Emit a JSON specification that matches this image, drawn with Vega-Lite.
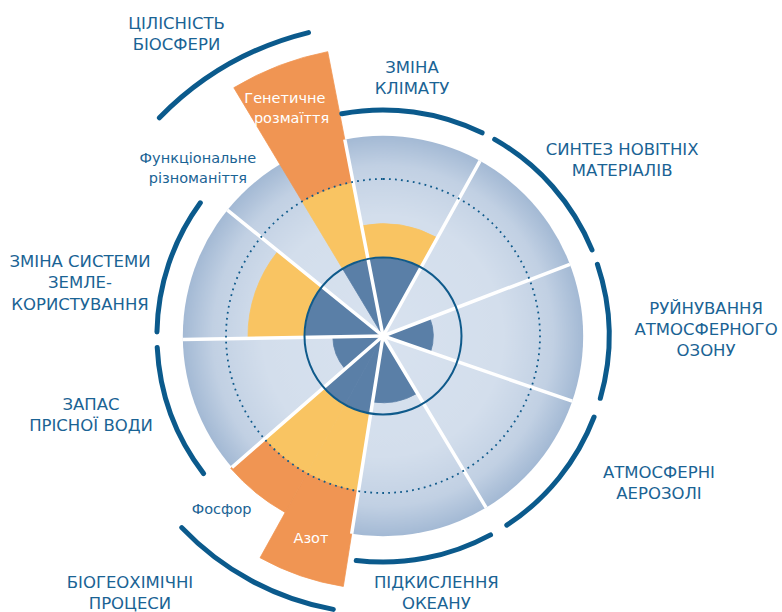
{
  "$schema": "https://vega.github.io/schema/vega-lite/v6.json",
  "width": 764,
  "height": 550,
  "autosize": {"type": "none"},
  "padding": {"left": 1, "top": 61, "right": 17, "bottom": 1},
  "background": "white",
  "config": {"view": {"stroke": null}, "text": {"font": "DejaVu Sans"}},
  "layer": [
    {
      "data": {"values": [{"start": 0, "end": 360, "outer": 2.55}]},
      "mark": {"type": "arc", "fill": {"gradient": "radial", "x1": 0.5, "y1": 0.5, "r1": 0, "x2": 0.5, "y2": 0.5, "r2": 0.5,
        "stops": [{"offset": 0, "color": "#d8e2ef"}, {"offset": 0.6, "color": "#d3deec"}, {"offset": 0.85, "color": "#c1d0e3"}, {"offset": 1, "color": "#a3b9d4"}]}},
      "encoding": {
        "theta": {"field": "start", "type": "quantitative", "stack": null, "scale": {"type": "linear", "domain": [0, 360], "range": [0, 6.283185307179586], "nice": false}},
        "theta2": {"field": "end"},
        "radius": {"field": "outer", "type": "quantitative", "stack": null, "scale": {"type": "linear", "domain": [0, 1], "range": [0, 78.5], "nice": false}}
      }
    },
    {
      "data": {"values": [
        {"boundary": "Зміна клімату", "start": -11, "end": 29, "inner": 0, "outer": 1, "zone": "safe"},
        {"boundary": "Зміна клімату", "start": -11, "end": 29, "inner": 1, "outer": 1.43, "zone": "increasing"},
        {"boundary": "Озон", "start": 69, "end": 109, "inner": 0, "outer": 0.64, "zone": "safe"},
        {"boundary": "Океан", "start": 149, "end": 189, "inner": 0, "outer": 0.85, "zone": "safe"},
        {"boundary": "Азот", "start": 189, "end": 209, "inner": 0, "outer": 1, "zone": "safe"},
        {"boundary": "Азот", "start": 189, "end": 209, "inner": 1, "outer": 2, "zone": "increasing"},
        {"boundary": "Азот", "start": 189, "end": 209, "inner": 2, "outer": 3.23, "zone": "high"},
        {"boundary": "Фосфор", "start": 209, "end": 229, "inner": 0, "outer": 1, "zone": "safe"},
        {"boundary": "Фосфор", "start": 209, "end": 229, "inner": 1, "outer": 2, "zone": "increasing"},
        {"boundary": "Фосфор", "start": 209, "end": 229, "inner": 2, "outer": 2.57, "zone": "high"},
        {"boundary": "Прісна вода", "start": 229, "end": 269, "inner": 0, "outer": 0.64, "zone": "safe"},
        {"boundary": "Землекористування", "start": 269, "end": 309, "inner": 0, "outer": 1, "zone": "safe"},
        {"boundary": "Землекористування", "start": 269, "end": 309, "inner": 1, "outer": 1.72, "zone": "increasing"},
        {"boundary": "Генетичне розмаїття", "start": 329, "end": 349, "inner": 0, "outer": 1, "zone": "safe"},
        {"boundary": "Генетичне розмаїття", "start": 329, "end": 349, "inner": 1, "outer": 2, "zone": "increasing"},
        {"boundary": "Генетичне розмаїття", "start": 329, "end": 349, "inner": 2, "outer": 3.69, "zone": "high"}
      ]},
      "mark": {"type": "arc", "strokeWidth": 0.8},
      "encoding": {
        "theta": {"field": "start", "type": "quantitative", "stack": null},
        "theta2": {"field": "end"},
        "radius": {"field": "outer", "type": "quantitative", "stack": null},
        "radius2": {"field": "inner"},
        "color": {"field": "zone", "type": "nominal", "legend": null, "scale": {"domain": ["safe", "increasing", "high"], "range": ["#5a7fa7", "#f9c462", "#f09553"]}},
        "stroke": {"field": "zone", "type": "nominal", "legend": null, "scale": {"domain": ["safe", "increasing", "high"], "range": ["#5a7fa7", "#f9c462", "#f09553"]}}
      }
    },
    {
      "data": {"values": [
        {"angle": 349, "outer": 2.55}, {"angle": 29, "outer": 2.55}, {"angle": 69, "outer": 2.55},
        {"angle": 109, "outer": 2.55}, {"angle": 149, "outer": 2.55}, {"angle": 189, "outer": 2.55},
        {"angle": 229, "outer": 2.55}, {"angle": 269, "outer": 2.55}, {"angle": 309, "outer": 2.55}
      ]},
      "mark": {"type": "arc", "filled": false, "fill": null, "stroke": "white", "strokeWidth": 3.5},
      "encoding": {
        "theta": {"field": "angle", "type": "quantitative", "stack": null},
        "theta2": {"field": "angle"},
        "radius": {"field": "outer", "type": "quantitative", "stack": null}
      }
    },
    {
      "data": {"values": [{"start": 0, "end": 360, "r": 2.0}]},
      "mark": {"type": "arc", "filled": false, "fill": null, "stroke": "#0f5a8b", "strokeWidth": 1.8, "strokeDash": [1.8, 4.2]},
      "encoding": {
        "theta": {"field": "start", "type": "quantitative", "stack": null},
        "theta2": {"field": "end"},
        "radius": {"field": "r", "type": "quantitative", "stack": null}
      }
    },
    {
      "data": {"values": [{"start": 0, "end": 360, "r": 1.0}]},
      "mark": {"type": "arc", "filled": false, "fill": null, "stroke": "#0f5a8b", "strokeWidth": 2},
      "encoding": {
        "theta": {"field": "start", "type": "quantitative", "stack": null},
        "theta2": {"field": "end"},
        "radius": {"field": "r", "type": "quantitative", "stack": null}
      }
    },
    {
      "data": {"values": [
        {"group": "Цілісність біосфери", "start": 314.3, "end": 346.2, "r": 3.98},
        {"group": "Зміна клімату", "start": -10.5, "end": 26, "r": 2.88},
        {"group": "Синтез новітніх матеріалів", "start": 29.6, "end": 67.6, "r": 2.88},
        {"group": "Руйнування атмосферного озону", "start": 71.5, "end": 106, "r": 2.88},
        {"group": "Атмосферні аерозолі", "start": 111, "end": 146.8, "r": 2.88},
        {"group": "Підкислення океану", "start": 151.6, "end": 186.8, "r": 2.88},
        {"group": "Біогеохімічні процеси", "start": 190.3, "end": 226.4, "r": 3.54},
        {"group": "Запас прісної води", "start": 232.5, "end": 267.1, "r": 2.88},
        {"group": "Зміна системи землекористування", "start": 271, "end": 306.1, "r": 2.88}
      ]},
      "mark": {"type": "arc", "filled": false, "fill": null, "stroke": "#0b5a8c", "strokeWidth": 5, "strokeJoin": "round", "strokeCap": "round"},
      "encoding": {
        "theta": {"field": "start", "type": "quantitative", "stack": null},
        "theta2": {"field": "end"},
        "radius": {"field": "r", "type": "quantitative", "stack": null},
        "radius2": {"field": "r"}
      }
    },
    {
      "data": {"values": [
        {"label": "ЦІЛІСНІСТЬ\nБІОСФЕРИ", "angle": 326.5, "r": 4.767},
        {"label": "ЗМІНА\nКЛІМАТУ", "angle": 6.16, "r": 3.44},
        {"label": "СИНТЕЗ НОВІТНІХ\nМАТЕРІАЛІВ", "angle": 52.1, "r": 3.86},
        {"label": "РУЙНУВАННЯ\nАТМОСФЕРНОГО\nОЗОНУ", "angle": 85.2, "r": 4.13},
        {"label": "АТМОСФЕРНІ\nАЕРОЗОЛІ", "angle": 116.4, "r": 3.925},
        {"label": "ПІДКИСЛЕННЯ\nОКЕАНУ", "angle": 167.8, "r": 3.215},
        {"label": "БІОГЕОХІМІЧНІ\nПРОЦЕСИ", "angle": 225.7, "r": 4.504},
        {"label": "ЗАПАС\nПРІСНОЇ ВОДИ", "angle": 256.7, "r": 3.822},
        {"label": "ЗМІНА СИСТЕМИ\nЗЕМЛЕ-\nКОРИСТУВАННЯ", "angle": 283.7, "r": 3.973}
      ]},
      "mark": {"type": "text", "lineBreak": "\n", "lineHeight": 21.3, "fontSize": 16.5, "color": "#1a6394", "align": "center", "baseline": "middle"},
      "encoding": {
        "theta": {"field": "angle", "type": "quantitative", "stack": null},
        "radius": {"field": "r", "type": "quantitative", "stack": null},
        "text": {"field": "label"}
      }
    },
    {
      "data": {"values": [
        {"label": "Функціональне\nрізноманіття", "angle": 313.7, "r": 3.261},
        {"label": "Фосфор", "angle": 222.9, "r": 3.02}
      ]},
      "mark": {"type": "text", "lineBreak": "\n", "lineHeight": 20, "fontSize": 14.5, "color": "#1a6394", "align": "center", "baseline": "middle"},
      "encoding": {
        "theta": {"field": "angle", "type": "quantitative", "stack": null},
        "radius": {"field": "r", "type": "quantitative", "stack": null},
        "text": {"field": "label"}
      }
    },
    {
      "data": {"values": [
        {"label": "Генетичне", "angle": 337.5, "r": 3.267},
        {"label": "розмаїття", "angle": 337.14, "r": 3.0},
        {"label": "Азот", "angle": 199.5, "r": 2.75}
      ]},
      "mark": {"type": "text", "fontSize": 14.5, "color": "white", "align": "center", "baseline": "middle"},
      "encoding": {
        "theta": {"field": "angle", "type": "quantitative", "stack": null},
        "radius": {"field": "r", "type": "quantitative", "stack": null},
        "text": {"field": "label"}
      }
    }
  ]
}
